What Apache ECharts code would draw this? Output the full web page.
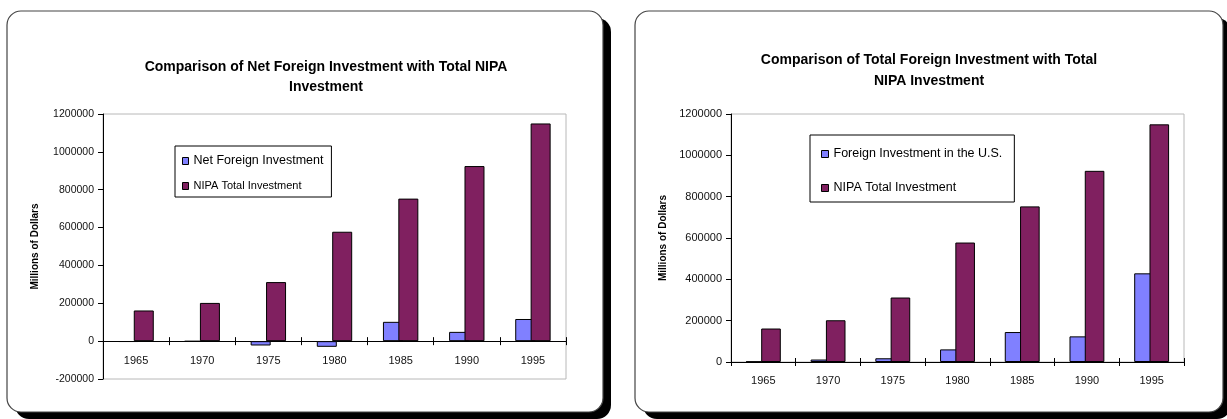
<!DOCTYPE html>
<html>
<head>
<meta charset="utf-8">
<script src="https://cdn.jsdelivr.net/npm/echarts@6/dist/echarts.min.js"></script>
<style>
  html, body { margin: 0; padding: 0; background: #fff; }
  #chart { width: 1227px; height: 419px; }
</style>
</head>
<body>
<div id="chart"></div>
<script>
// Investment figures in millions of dollars, five-year steps
const years = ['1965', '1970', '1975', '1980', '1985', '1990', '1995'];
const netForeignInvestment = [-4000, -1500, -23000, -30000, 102000, 49000, 117000];
const foreignInvestmentInUS = [2000, 12000, 18000, 61000, 145000, 124000, 429000];
const nipaTotalInvestment = [162000, 202000, 312000, 578000, 753000, 925000, 1150000];

const leftTitle = 'Comparison of Net Foreign Investment with Total NIPA\nInvestment';
const rightTitle = 'Comparison of Total Foreign Investment with Total\nNIPA Investment';
const yName = 'Millions of Dollars';

const FONT = "'Liberation Sans', Arial, sans-serif";
const BLUE = '#8080FF';
const MAROON = '#802060';

// Plot rectangles
const leftPlot = { left: 103, top: 114, right: 661, bottom: 40 };
const rightPlot = { left: 731, top: 114, right: 43, bottom: 57 };

function panel(x, y, w, h) {
  return [
    { type: 'rect', z: -2, shape: { x: x + 8, y: y + 7, width: w, height: h, r: 14 }, style: { fill: '#000' } },
    { type: 'rect', z: -1, shape: { x: x, y: y, width: w, height: h, r: 14 }, style: { fill: '#fff', stroke: '#444', lineWidth: 1.2 } }
  ];
}

function yAxis(gridIndex, min, labelSize) {
  return {
    type: 'value', gridIndex, min, max: 1200000, interval: 200000,
    name: yName, nameLocation: 'middle', nameGap: 63,
    nameTextStyle: { fontFamily: FONT, fontSize: 10, fontWeight: 'bold', color: '#000' },
    axisLine: { show: true, lineStyle: { color: '#000', width: 1 } },
    axisTick: { show: true, length: 5, lineStyle: { color: '#000' } },
    axisLabel: { fontFamily: FONT, fontSize: labelSize, color: '#111', margin: 9, formatter: v => String(v) },
    splitLine: { show: false }
  };
}

// Value axis of an overlay grid: only carries the zero position
function hiddenYAxis(gridIndex, min) {
  return {
    type: 'value', gridIndex, min, max: 1200000, interval: 200000,
    axisLine: { show: false }, axisTick: { show: false }, axisLabel: { show: false }, splitLine: { show: false }
  };
}

function xAxis(gridIndex, margin) {
  return {
    type: 'category', gridIndex, data: years, position: 'bottom',
    axisLine: { show: true, onZero: true, lineStyle: { color: '#000', width: 1 } },
    axisTick: { show: true, length: 4, lineStyle: { color: '#000' } },
    axisLabel: { fontFamily: FONT, fontSize: 11, color: '#111', margin: margin },
    splitLine: { show: false }
  };
}

// Upper half of the crossing category ticks
function innerTickAxis(gridIndex) {
  return {
    type: 'category', gridIndex, data: years, position: 'bottom',
    axisLine: { show: false, onZero: true },
    axisTick: { show: true, inside: true, length: 4, lineStyle: { color: '#000' } },
    axisLabel: { show: false },
    splitLine: { show: false }
  };
}

function bar(name, data, color, xi, yi, width, gap) {
  return {
    type: 'bar', name, data, xAxisIndex: xi, yAxisIndex: yi,
    barWidth: width, barGap: gap,
    itemStyle: { color, borderColor: '#000', borderWidth: 1 },
    emphasis: { disabled: true }
  };
}

const chart = echarts.init(document.getElementById('chart'), null, { renderer: 'canvas' });

chart.setOption({
  animation: false,
  graphic: [].concat(panel(7, 11, 596, 401), panel(635, 11, 588, 401)),
  title: [
    { text: leftTitle, left: 321, top: 52, textAlign: 'center',
      textStyle: { fontFamily: FONT, fontSize: 14, fontWeight: 'bold', color: '#000', lineHeight: 20 } },
    { text: rightTitle, left: 924, top: 45, textAlign: 'center',
      textStyle: { fontFamily: FONT, fontSize: 14, fontWeight: 'bold', color: '#000', lineHeight: 21 } }
  ],
  legend: [
    {
      orient: 'vertical', left: 175, top: 146, padding: [8, 8, 4, 7], itemGap: 11,
      itemWidth: 6, itemHeight: 7, borderColor: '#000', borderWidth: 1, backgroundColor: '#fff',
      icon: 'rect', selectedMode: false,
      itemStyle: { borderColor: '#000', borderWidth: 1 },
      textStyle: { fontFamily: FONT, color: '#000', lineHeight: 14 },
      data: [
        { name: 'Net Foreign Investment', textStyle: { fontSize: 12.5 } },
        { name: 'NIPA Total Investment', textStyle: { fontSize: 11 } }
      ]
    },
    {
      orient: 'vertical', left: 810, top: 135, padding: [12, 12, 7, 11], itemGap: 20,
      itemWidth: 7, itemHeight: 7, borderColor: '#000', borderWidth: 1, backgroundColor: '#fff',
      icon: 'rect', selectedMode: false,
      itemStyle: { borderColor: '#000', borderWidth: 1 },
      textStyle: { fontFamily: FONT, color: '#000', fontSize: 12.5, lineHeight: 14 },
      data: ['Foreign Investment in the U.S.', { name: 'NIPA Total Investment ' }]
    }
  ],
  grid: [
    Object.assign({ show: true, borderColor: '#b8b8b8', borderWidth: 1, backgroundColor: 'transparent' }, leftPlot),
    Object.assign({ show: true, borderColor: '#b8b8b8', borderWidth: 1, backgroundColor: 'transparent' }, rightPlot),
    Object.assign({ show: false }, leftPlot),
    Object.assign({ show: false }, rightPlot)
  ],
  // category labels of the left plot sit just under its zero line
  xAxis: [xAxis(0, -24), xAxis(1, 13), innerTickAxis(2), innerTickAxis(3)],
  yAxis: [yAxis(0, -200000, 10.5), yAxis(1, 0, 11), hiddenYAxis(2, -200000), hiddenYAxis(3, 0)],
  series: [
    bar('Net Foreign Investment', netForeignInvestment, BLUE, 0, 0, 20, '-23%'),
    bar('NIPA Total Investment', nipaTotalInvestment, MAROON, 0, 0, 20, '-23%'),
    bar('Foreign Investment in the U.S.', foreignInvestmentInUS, BLUE, 1, 1, 19.6, '-22%'),
    bar('NIPA Total Investment ', nipaTotalInvestment, MAROON, 1, 1, 19.6, '-22%')
  ]
});
</script>
</body>
</html>
